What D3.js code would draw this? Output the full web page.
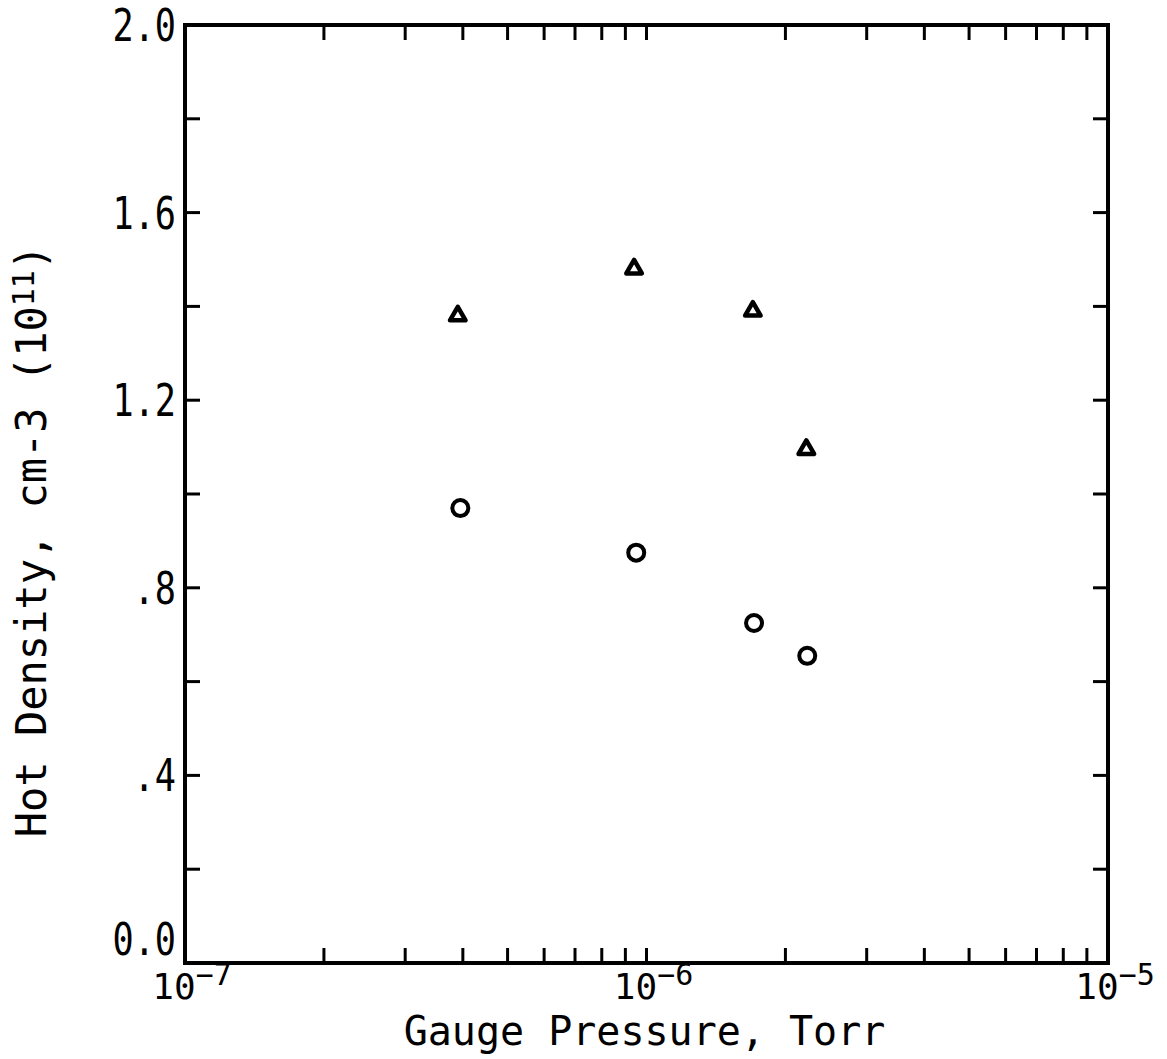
<!DOCTYPE html>
<html>
<head>
<meta charset="utf-8">
<script src="https://cdn.jsdelivr.net/npm/d3@7"></script>
<style>
  html, body { margin: 0; padding: 0; background: #fff; }
  svg { display: block; }
  text { font-family: "DejaVu Sans Mono", "Liberation Mono", monospace; fill: #000; }
</style>
</head>
<body>
<script>
// ---- data ----
const pressureTriangles = [3.9e-7, 9.4e-7, 1.70e-6, 2.22e-6];
const densityTriangles  = [1.38, 1.48, 1.39, 1.095];
const pressureCircles   = [3.95e-7, 9.5e-7, 1.71e-6, 2.23e-6];
const densityCircles    = [0.97, 0.875, 0.725, 0.655];
const yTickValues = [0, 0.2, 0.4, 0.6, 0.8, 1.0, 1.2, 1.4, 1.6, 1.8, 2.0];
const yTickLabels = {0: "0.0", 0.4: ".4", 0.8: ".8", 1.2: "1.2", 1.6: "1.6", 2.0: "2.0"};
const xMajorExponents = [-7, -6, -5];
const xLabel = "Gauge Pressure, Torr";
const yLabel = "Hot Density, cm-3 (10";
const yLabelSup = "11";

const W = 1167, H = 1059;
const L = 185, R = 1108, T = 25, B = 963;

const svg = d3.select("body").append("svg").attr("width", W).attr("height", H);

const x = d3.scaleLog().domain([1e-7, 1e-5]).range([L, R]);
const y = d3.scaleLinear().domain([0, 2]).range([B, T]);

// minor+major x ticks
const xTicks = [];
for (let e = -7; e < -5; e++) {
  for (let m = 1; m <= 9; m++) xTicks.push(m * Math.pow(10, e));
}
const xInner = xTicks.filter(v => v > 1.0001e-7);

const tickLen = 15;
const g = svg.append("g");

g.selectAll(".xb").data(xInner).enter().append("line")
  .attr("x1", d => x(d)).attr("x2", d => x(d))
  .attr("y1", B).attr("y2", B - tickLen)
  .attr("stroke", "#000").attr("stroke-width", 3);
g.selectAll(".xt").data(xInner).enter().append("line")
  .attr("x1", d => x(d)).attr("x2", d => x(d))
  .attr("y1", T).attr("y2", T + tickLen)
  .attr("stroke", "#000").attr("stroke-width", 3);
const yInner = yTickValues.filter(v => v > 0 && v < 2);
g.selectAll(".yl").data(yInner).enter().append("line")
  .attr("x1", L).attr("x2", L + tickLen)
  .attr("y1", d => y(d)).attr("y2", d => y(d))
  .attr("stroke", "#000").attr("stroke-width", 3);
g.selectAll(".yr").data(yInner).enter().append("line")
  .attr("x1", R).attr("x2", R - tickLen)
  .attr("y1", d => y(d)).attr("y2", d => y(d))
  .attr("stroke", "#000").attr("stroke-width", 3);

// frame
g.append("rect").attr("x", L).attr("y", T).attr("width", R - L).attr("height", B - T)
  .attr("fill", "none").attr("stroke", "#000").attr("stroke-width", 4);

// y tick labels
yTickValues.filter(v => yTickLabels[v] !== undefined).forEach(v => {
  const yy = v === 0 ? B - 8 : y(v) + 16;
  svg.append("text")
    .attr("transform", `translate(${L - 9},${yy}) scale(0.8,1)`)
    .attr("text-anchor", "end")
    .attr("font-size", 44)
    .text(yTickLabels[v]);
});

// x tick labels
xMajorExponents.forEach(e => {
  const t = svg.append("text")
    .attr("x", x(Math.pow(10, e)) + 7)
    .attr("y", 999)
    .attr("text-anchor", "middle")
    .attr("font-size", 36);
  t.append("tspan").text("10");
  t.append("tspan").attr("font-size", 30).attr("dy", -14).text("\u2212" + Math.abs(e));
});

// axis titles
svg.append("text")
  .attr("x", (L + R) / 2 - 2).attr("y", 1045)
  .attr("text-anchor", "middle")
  .attr("font-size", 40)
  .text(xLabel);

const yt = svg.append("text")
  .attr("transform", `translate(46,541) rotate(-90)`)
  .attr("text-anchor", "middle")
  .attr("font-size", 42);
yt.append("tspan").text(yLabel);
yt.append("tspan").attr("font-size", 30).attr("dy", -12).text(yLabelSup);
yt.append("tspan").attr("dy", 12).text(")");

// markers
const tri = d3.symbol().type(d3.symbolTriangle).size(105);
svg.selectAll(".tri").data(pressureTriangles.map((p, i) => [p, densityTriangles[i]]))
  .enter().append("path")
  .attr("d", tri)
  .attr("transform", d => `translate(${x(d[0])},${y(d[1])})`)
  .attr("fill", "none").attr("stroke", "#000").attr("stroke-width", 4.5)
  .attr("stroke-linejoin", "round");

svg.selectAll(".circ").data(pressureCircles.map((p, i) => [p, densityCircles[i]]))
  .enter().append("circle")
  .attr("cx", d => x(d[0])).attr("cy", d => y(d[1]))
  .attr("r", 8)
  .attr("fill", "none").attr("stroke", "#000").attr("stroke-width", 4);
</script>
</body>
</html>
